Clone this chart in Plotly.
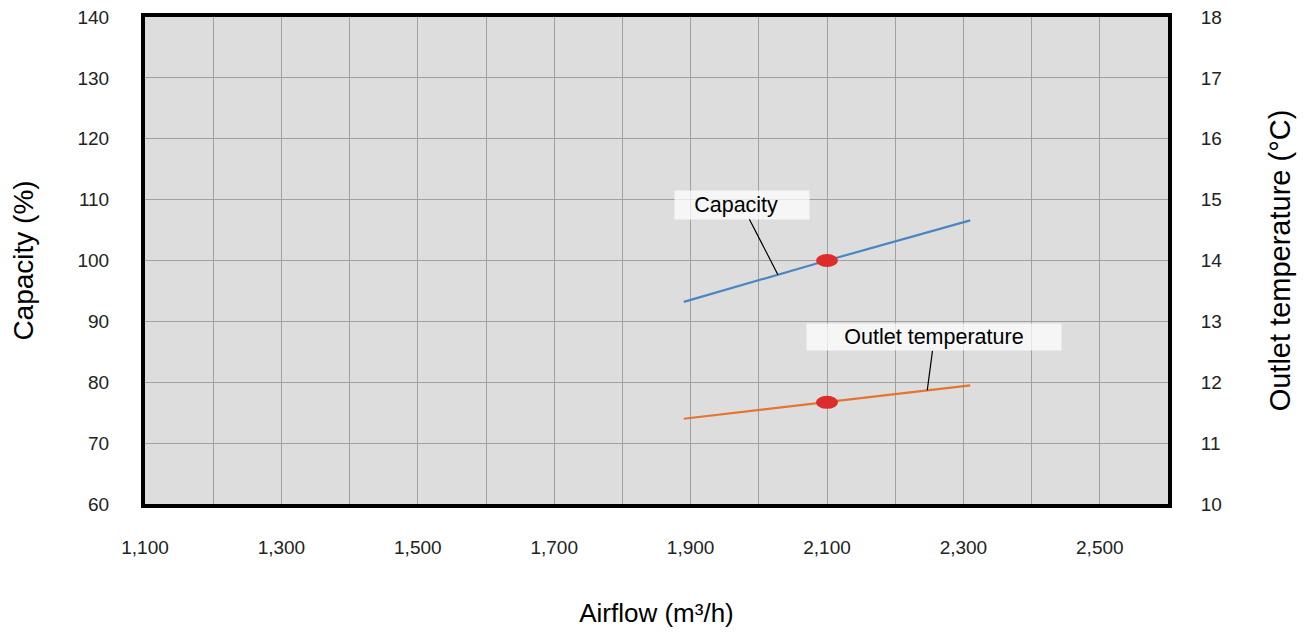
import numpy as np
import plotly.graph_objects as go
from plotly.subplots import make_subplots

# data
airflow = [1890, 2100, 2310]
capacity = [93.2, 100.0, 106.6]
outlet_temp = [11.40, 11.67, 11.95]

design_airflow = 2100
design_capacity = 100.0
design_temp = 11.67

x_ticks = [1100, 1300, 1500, 1700, 1900, 2100, 2300, 2500]

# where the label leader lines touch the curves
cap_label_x = 2028
temp_label_x = 2247

FONT = "Liberation Sans, Arial, sans-serif"

fig = make_subplots(specs=[[{"secondary_y": True}]])

fig.add_trace(go.Scatter(
    x=airflow, y=capacity, mode='lines',
    line=dict(color='#4A86C2', width=2.2), name='Capacity'),
    secondary_y=False)
fig.add_trace(go.Scatter(
    x=airflow, y=outlet_temp, mode='lines',
    line=dict(color='#E5742E', width=2.2), name='Outlet temperature'),
    secondary_y=True)

# red design-point ellipses (pixel sized, anchored at data)
for yref, yval in [('y', design_capacity), ('y2', design_temp)]:
    fig.add_shape(type='circle', xref='x', yref=yref,
                  xsizemode='pixel', ysizemode='pixel',
                  xanchor=design_airflow, yanchor=yval,
                  x0=-11, x1=11, y0=-6.5, y1=6.5,
                  fillcolor='#DD2C2C', line=dict(width=0))

fig.add_annotation(
    x=cap_label_x, y=float(np.interp(cap_label_x, airflow, capacity)),
    xref='x', yref='y', text='Capacity&nbsp;&nbsp;',
    showarrow=True, arrowhead=0, arrowwidth=1.2, arrowcolor='black',
    ax=-36, ay=-70, width=134, height=28,
    bgcolor='rgba(255,255,255,0.72)', borderpad=0,
    font=dict(family=FONT, size=21.5, color='black'))
fig.add_annotation(
    x=temp_label_x, y=float(np.interp(temp_label_x, airflow, outlet_temp)),
    xref='x', yref='y2', text='Outlet temperature',
    showarrow=True, arrowhead=0, arrowwidth=1.2, arrowcolor='black',
    ax=7, ay=-53, width=254, height=26,
    bgcolor='rgba(255,255,255,0.72)', borderpad=0,
    font=dict(family=FONT, size=21.5, color='black'))

fig.update_xaxes(
    domain=[0, 1],
    range=[1100, 2600], tickvals=x_ticks, tickformat=',d', automargin=False,
    showgrid=True, gridcolor='#A0A0A0', gridwidth=1,
    minor=dict(dtick=100, tick0=1100, showgrid=True, gridcolor='#A0A0A0', gridwidth=1),
    ticks='outside', ticklen=23, tickcolor='rgba(0,0,0,0)',
    showline=True, linecolor='black', linewidth=4, mirror=True,
    zeroline=False, ticklabeloverflow='allow',
    tickfont=dict(family=FONT, size=19, color='#222'),
    title=dict(text='Airflow (m³/h)', standoff=48,
               font=dict(family=FONT, size=26, color='black')))

fig.update_yaxes(
    range=[60, 140], dtick=10, secondary_y=False, automargin=False,
    showgrid=True, gridcolor='#A0A0A0', gridwidth=1, zeroline=False,
    ticks='outside', ticklen=28, tickcolor='rgba(0,0,0,0)',
    showline=True, linecolor='black', linewidth=4, mirror=True,
    ticklabeloverflow='allow',
    tickfont=dict(family=FONT, size=19, color='#222'),
    title=dict(text='Capacity (%)', standoff=43,
               font=dict(family=FONT, size=28, color='black')))

fig.update_yaxes(
    range=[10, 18], dtick=1, secondary_y=True, automargin=False,
    showgrid=False, zeroline=False, ticklabeloverflow='allow',
    ticks='outside', ticklen=28, tickcolor='rgba(0,0,0,0)',
    tickfont=dict(family=FONT, size=19, color='#222'),
    title=dict(text='Outlet temperature (°C)', standoff=48,
               font=dict(family=FONT, size=29, color='black')))

# the page body adds an 8px offset, so margins are shifted to compensate
fig.update_layout(
    width=1306, height=634,
    margin=dict(l=137, r=146, t=9, b=138),
    plot_bgcolor='#DDDDDD', paper_bgcolor='white',
    showlegend=False)

fig.write_html("out.html")
